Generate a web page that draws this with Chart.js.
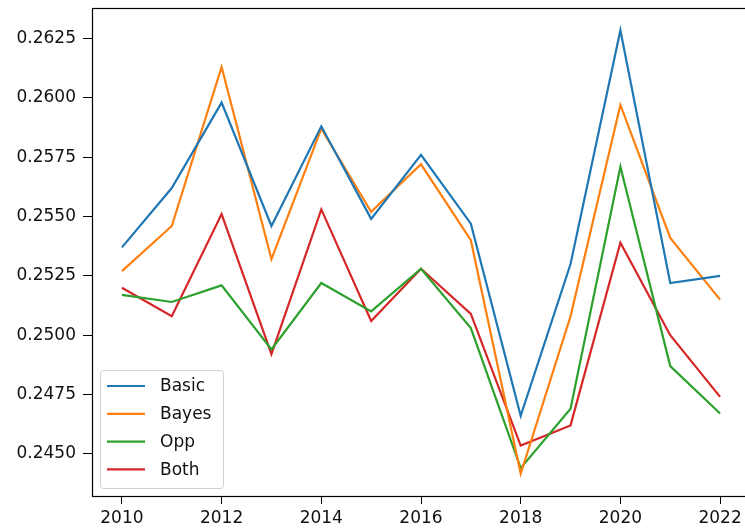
<!DOCTYPE html>
<html>
<head>
<meta charset="utf-8">
<script src="https://cdn.jsdelivr.net/npm/chart.js@4.4.1/dist/chart.umd.min.js"></script>
<style>
  html, body { margin: 0; padding: 0; background: #fff; overflow: hidden; }
  #wrap { position: relative; width: 750px; height: 528px; }
</style>
</head>
<body>
<div id="wrap"><canvas id="chart"></canvas></div>
<script>
// values
const years = [2010, 2011, 2012, 2013, 2014, 2015, 2016, 2017, 2018, 2019, 2020, 2021, 2022];
const basic = [0.2537, 0.2562, 0.2598, 0.2546, 0.2588, 0.2549, 0.2576, 0.2547, 0.2466, 0.2530, 0.26285, 0.2522, 0.2525];
const bayes = [0.2527, 0.2546, 0.2613, 0.2532, 0.2587, 0.2552, 0.2572, 0.2540, 0.24416, 0.2508, 0.2597, 0.2541, 0.2515];
const opp = [0.2517, 0.2514, 0.2521, 0.2494, 0.2522, 0.2510, 0.2528, 0.2503, 0.2444, 0.2469, 0.2571, 0.2487, 0.2467];
const both = [0.2520, 0.2508, 0.2551, 0.2492, 0.2553, 0.2506, 0.2528, 0.2509, 0.24535, 0.2462, 0.2539, 0.2500, 0.2474];

const xTicks = [2010, 2012, 2014, 2016, 2018, 2020, 2022];
const yTicks = [0.2450, 0.2475, 0.2500, 0.2525, 0.2550, 0.2575, 0.2600, 0.2625];

const seriesNames = ['Basic', 'Bayes', 'Opp', 'Both'];
const seriesColors = ['#1f77b4', '#ff7f0e', '#2ca02c', '#d62728'];
const seriesValues = [basic, bayes, opp, both];

const FONT = '"DejaVu Sans", sans-serif';

// matplotlib-like 5% margins
const allVals = seriesValues.flat();
const yMin = Math.min(...allVals), yMax = Math.max(...allVals);
const yPad = (yMax - yMin) * 0.05;
const xPad = (years[years.length - 1] - years[0]) * 0.05;

function noEdgePadding(axis) {
  axis.paddingTop = 0;
  axis.paddingBottom = 0;
  axis.paddingLeft = 0;
  axis.paddingRight = 0;
}

// frame around the plot area (top/right spines too)
const framePlugin = {
  id: 'frame',
  afterDatasetsDraw(chart) {
    const a = chart.chartArea, ctx = chart.ctx;
    ctx.save();
    ctx.strokeStyle = '#000';
    ctx.lineWidth = 1.2;
    ctx.strokeRect(Math.round(a.left) + 0.5, Math.round(a.top) + 0.5,
      Math.round(a.right - a.left), Math.round(a.bottom - a.top));
    ctx.restore();
  }
};

// legend box in the lower-left corner of the plot
const legendPlugin = {
  id: 'innerLegend',
  afterDraw(chart) {
    const ctx = chart.ctx;
    const a = chart.chartArea;
    const x0 = a.left + 8, y0 = a.bottom - 126, w = 123, h = 118;
    ctx.save();
    ctx.fillStyle = 'rgba(255,255,255,0.8)';
    ctx.strokeStyle = '#d0d0d0';
    ctx.lineWidth = 1;
    ctx.beginPath();
    ctx.roundRect(x0 + 0.5, y0 + 0.5, w, h, 3);
    ctx.fill();
    ctx.stroke();
    ctx.font = '17px ' + FONT;
    ctx.textBaseline = 'middle';
    chart.data.datasets.forEach((ds, i) => {
      const yy = y0 + 16 + i * 27.8;
      ctx.strokeStyle = ds.borderColor;
      ctx.lineWidth = 2.2;
      ctx.beginPath();
      ctx.moveTo(x0 + 7, yy);
      ctx.lineTo(x0 + 45, yy);
      ctx.stroke();
      ctx.fillStyle = '#111';
      ctx.fillText(ds.label, x0 + 60, yy + 1);
    });
    ctx.restore();
  }
};

new Chart(document.getElementById('chart'), {
  type: 'line',
  data: {
    datasets: seriesNames.map((name, i) => ({
      label: name,
      data: years.map((yr, j) => ({ x: yr, y: seriesValues[i][j] })),
      borderColor: seriesColors[i],
      backgroundColor: seriesColors[i],
      borderWidth: 2.2,
      pointRadius: 0,
      tension: 0,
      fill: false
    }))
  },
  options: {
    responsive: true,
    maintainAspectRatio: false,
    animation: false,
    layout: { padding: { top: 8, right: 0, left: 0, bottom: 0 } },
    plugins: {
      legend: { display: false },
      tooltip: { enabled: false }
    },
    scales: {
      x: {
        type: 'linear',
        min: years[0] - xPad,
        max: years[years.length - 1] + xPad,
        afterBuildTicks: axis => { axis.ticks = xTicks.map(v => ({ value: v })); },
        afterFit: axis => { axis.height = 32; noEdgePadding(axis); },
        grid: { drawOnChartArea: false, drawTicks: true, tickLength: 8, color: '#000' },
        border: { display: true, color: '#000', width: 1 },
        ticks: {
          color: '#111',
          padding: 4,
          maxRotation: 0,
          font: { family: FONT, size: 17 },
          callback: v => String(v)
        }
      },
      y: {
        min: yMin - yPad,
        max: yMax + yPad,
        afterBuildTicks: axis => { axis.ticks = yTicks.map(v => ({ value: v })); },
        afterFit: axis => { axis.width = 92; noEdgePadding(axis); },
        grid: { drawOnChartArea: false, drawTicks: true, tickLength: 9, color: '#000' },
        border: { display: true, color: '#000', width: 1 },
        ticks: {
          color: '#111',
          padding: 7,
          font: { family: FONT, size: 17 },
          callback: v => v.toFixed(4)
        }
      }
    }
  },
  plugins: [framePlugin, legendPlugin]
});
</script>
</body>
</html>
